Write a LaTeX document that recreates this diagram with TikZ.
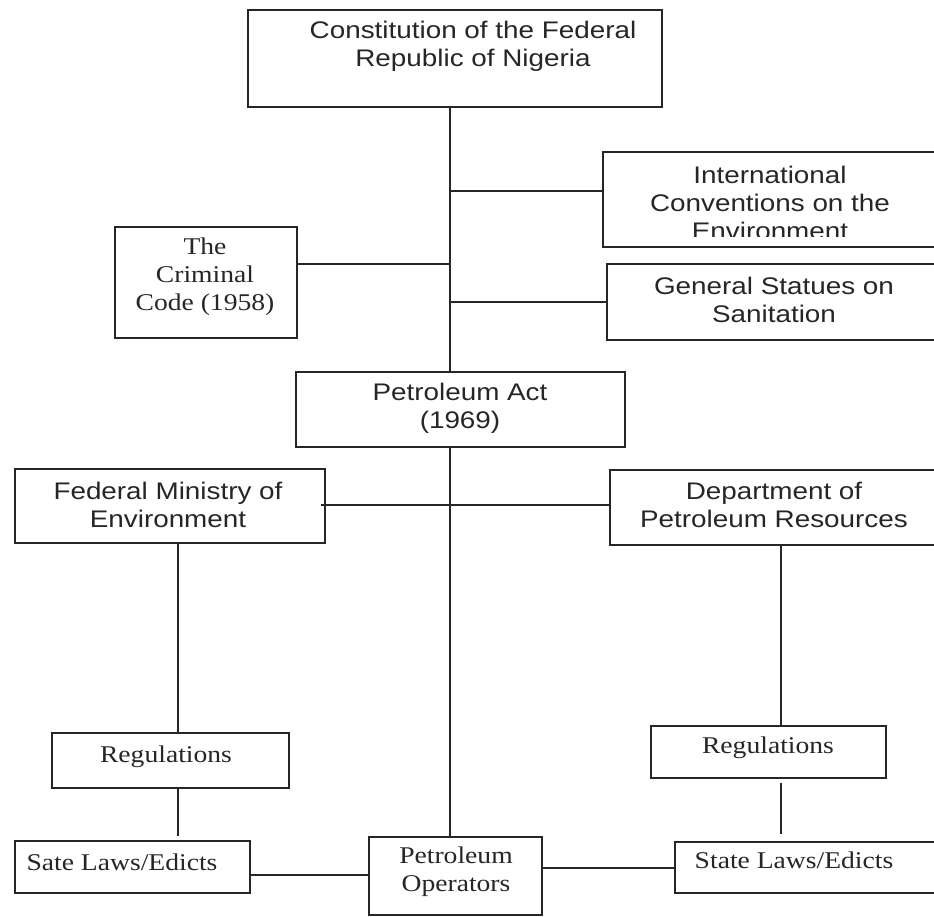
\documentclass[tikz,border=0pt]{standalone}
\usepackage{fontspec}
\newfontfamily\sansf[FakeStretch=1.16]{Liberation Sans}
\newfontfamily\seriff[FakeStretch=1.15]{Liberation Serif}
\begin{document}
\begin{tikzpicture}[x=1pt,y=-1pt,
  box/.style={draw=black!85, line width=1.3pt, inner sep=0pt, fill=none},
  ln/.style={draw=black!85, line width=1.3pt},
  stxt/.style={font=\sansf\fontsize{24}{28}\selectfont, align=center, inner sep=0pt, anchor=base, text=black!85},
  rtxt/.style={font=\seriff\fontsize{24}{28}\selectfont, align=center, inner sep=0pt, anchor=base, text=black!85}]
\useasboundingbox[fill=white] (0,0) rectangle (934,916);
% boxes: center x, center y, width, height
\node[box, minimum width=414pt, minimum height=97pt] (con) at (455,58.5) {};
\node[box, minimum width=337pt, minimum height=95pt] (intl) at (771.5,199.5) {};
\node[box, minimum width=333pt, minimum height=76pt] (gen) at (773.5,302) {};
\node[box, minimum width=182pt, minimum height=111pt] (crim) at (206,282.5) {};
\node[box, minimum width=329pt, minimum height=75pt] (pact) at (460.5,409.5) {};
\node[box, minimum width=310pt, minimum height=74pt] (fme) at (170,506) {};
\node[box, minimum width=330pt, minimum height=75pt] (dpr) at (775,507.5) {};
\node[box, minimum width=237pt, minimum height=55pt] (reg1) at (170.5,760.5) {};
\node[box, minimum width=235pt, minimum height=52pt] (reg2) at (768.5,752) {};
\node[box, minimum width=235pt, minimum height=52pt] (sate) at (132.5,867) {};
\node[box, minimum width=173pt, minimum height=78pt] (po) at (455.5,876) {};
\node[box, minimum width=265pt, minimum height=51pt] (state) at (807.5,867.5) {};
% texts (anchor = baseline of last line)
\node[stxt] (con-t) at (473,66) {Constitution of the Federal\\Republic of Nigeria};
\begin{scope}
\clip (603,152) rectangle (940,236);
\node[stxt] (intl-t) at (770,239) {International\\Conventions on the\\Environment};
\end{scope}
\node[stxt] (gen-t) at (774,322) {General Statues on\\Sanitation};
\node[rtxt] (crim-t) at (205,310) {The\\Criminal\\Code (1958)};
\node[stxt] (pact-t) at (460,428) {Petroleum Act\\(1969)};
\node[stxt] (fme-t) at (168,527) {Federal Ministry of\\Environment};
\node[stxt] (dpr-t) at (774,527) {Department of\\Petroleum Resources};
\node[rtxt] (reg1-t) at (166,762) {Regulations};
\node[rtxt] (reg2-t) at (768,753) {Regulations};
\node[rtxt] (sate-t) at (122,870) {Sate Laws/Edicts};
\node[rtxt] (po-t) at (456,891) {Petroleum\\Operators};
\node[rtxt] (state-t) at (794,868) {State Laws/Edicts};
% helper coordinates
\coordinate (sx) at (450,0);
\coordinate (lx) at (178,0);
\coordinate (rx) at (781,0);
\coordinate (yi) at (0,191);
\coordinate (yc) at (0,264);
\coordinate (yf) at (0,505);
\coordinate (ys) at (0,875);
\coordinate (yst) at (0,868);
\coordinate (r2a) at (781,783);
\coordinate (r2b) at (781,834);
\coordinate (r1b) at (178,836);
% connectors
\draw[ln] (con.south -| sx) -- (pact.north -| sx);
\draw[ln] (sx |- yi) -- (intl.west |- yi);
\draw[ln] (crim.east |- yc) -- (sx |- yc);
\draw[ln] (sx |- gen.west) -- (gen.west);
\draw[ln] (pact.south -| sx) -- (po.north -| sx);
\draw[ln] ([xshift=-5pt]fme.east |- yf) -- (dpr.west |- yf);
\draw[ln] (fme.south -| lx) -- (reg1.north -| lx);
\draw[ln] (reg1.south -| lx) -- (r1b);
\draw[ln] (sate.east |- ys) -- (po.west |- ys);
\draw[ln] (po.east |- yst) -- (state.west |- yst);
\draw[ln] (dpr.south -| rx) -- (reg2.north -| rx);
\draw[ln] (r2a) -- (r2b);
\end{tikzpicture}
\end{document}
